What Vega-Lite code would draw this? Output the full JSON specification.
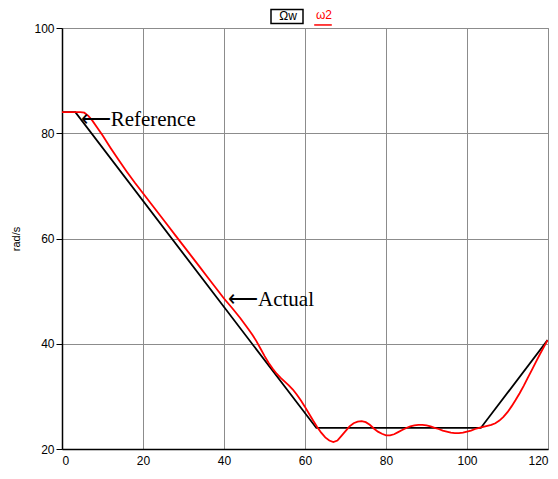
{
  "$schema": "https://vega.github.io/schema/vega-lite/v6.json",
  "width": 486,
  "height": 421,
  "autosize": "none",
  "padding": {"left": 62, "top": 28, "right": 10, "bottom": 30},
  "background": "white",
  "datasets": {
    "lines": [
      {"t": 0, "v": 84, "s": "Ωw"},
      {"t": 3.3, "v": 84, "s": "Ωw"},
      {"t": 62.8, "v": 24, "s": "Ωw"},
      {"t": 103.4, "v": 24, "s": "Ωw"},
      {"t": 119.9, "v": 40.7, "s": "Ωw"},
      {"t": 0, "v": 84, "s": "ω2"},
      {"t": 4.5, "v": 84, "s": "ω2"},
      {"t": 5.5, "v": 83.9, "s": "ω2"},
      {"t": 6.5, "v": 83.3, "s": "ω2"},
      {"t": 7.5, "v": 82.4, "s": "ω2"},
      {"t": 8.5, "v": 81.3, "s": "ω2"},
      {"t": 10, "v": 79.6, "s": "ω2"},
      {"t": 12, "v": 77.2, "s": "ω2"},
      {"t": 14, "v": 74.9, "s": "ω2"},
      {"t": 16, "v": 72.7, "s": "ω2"},
      {"t": 18, "v": 70.6, "s": "ω2"},
      {"t": 20, "v": 68.6, "s": "ω2"},
      {"t": 22, "v": 66.6, "s": "ω2"},
      {"t": 24, "v": 64.6, "s": "ω2"},
      {"t": 26, "v": 62.6, "s": "ω2"},
      {"t": 28, "v": 60.6, "s": "ω2"},
      {"t": 30, "v": 58.6, "s": "ω2"},
      {"t": 32, "v": 56.6, "s": "ω2"},
      {"t": 34, "v": 54.6, "s": "ω2"},
      {"t": 36, "v": 52.6, "s": "ω2"},
      {"t": 38, "v": 50.6, "s": "ω2"},
      {"t": 40, "v": 48.6, "s": "ω2"},
      {"t": 42, "v": 46.8, "s": "ω2"},
      {"t": 44, "v": 44.9, "s": "ω2"},
      {"t": 46, "v": 42.8, "s": "ω2"},
      {"t": 47, "v": 41.7, "s": "ω2"},
      {"t": 48, "v": 40.5, "s": "ω2"},
      {"t": 49, "v": 39.1, "s": "ω2"},
      {"t": 50, "v": 37.7, "s": "ω2"},
      {"t": 51, "v": 36.4, "s": "ω2"},
      {"t": 52, "v": 35.3, "s": "ω2"},
      {"t": 53, "v": 34.3, "s": "ω2"},
      {"t": 54, "v": 33.5, "s": "ω2"},
      {"t": 55, "v": 32.8, "s": "ω2"},
      {"t": 56, "v": 32.1, "s": "ω2"},
      {"t": 57, "v": 31.3, "s": "ω2"},
      {"t": 58, "v": 30.3, "s": "ω2"},
      {"t": 59, "v": 29.2, "s": "ω2"},
      {"t": 60, "v": 28.0, "s": "ω2"},
      {"t": 61, "v": 26.7, "s": "ω2"},
      {"t": 62, "v": 25.4, "s": "ω2"},
      {"t": 63, "v": 24.2, "s": "ω2"},
      {"t": 64, "v": 23.1, "s": "ω2"},
      {"t": 65, "v": 22.2, "s": "ω2"},
      {"t": 66, "v": 21.6, "s": "ω2"},
      {"t": 67, "v": 21.3, "s": "ω2"},
      {"t": 68, "v": 21.6, "s": "ω2"},
      {"t": 69, "v": 22.5, "s": "ω2"},
      {"t": 70, "v": 23.4, "s": "ω2"},
      {"t": 71, "v": 24.3, "s": "ω2"},
      {"t": 72, "v": 24.9, "s": "ω2"},
      {"t": 73, "v": 25.2, "s": "ω2"},
      {"t": 74, "v": 25.3, "s": "ω2"},
      {"t": 75, "v": 25.1, "s": "ω2"},
      {"t": 76, "v": 24.6, "s": "ω2"},
      {"t": 77, "v": 23.9, "s": "ω2"},
      {"t": 78, "v": 23.3, "s": "ω2"},
      {"t": 79, "v": 22.9, "s": "ω2"},
      {"t": 80, "v": 22.6, "s": "ω2"},
      {"t": 81, "v": 22.6, "s": "ω2"},
      {"t": 82, "v": 22.8, "s": "ω2"},
      {"t": 83, "v": 23.2, "s": "ω2"},
      {"t": 84, "v": 23.6, "s": "ω2"},
      {"t": 85, "v": 24.0, "s": "ω2"},
      {"t": 86, "v": 24.3, "s": "ω2"},
      {"t": 87, "v": 24.5, "s": "ω2"},
      {"t": 88, "v": 24.6, "s": "ω2"},
      {"t": 89, "v": 24.6, "s": "ω2"},
      {"t": 90, "v": 24.5, "s": "ω2"},
      {"t": 91, "v": 24.3, "s": "ω2"},
      {"t": 92, "v": 24.0, "s": "ω2"},
      {"t": 93, "v": 23.8, "s": "ω2"},
      {"t": 94, "v": 23.5, "s": "ω2"},
      {"t": 95, "v": 23.3, "s": "ω2"},
      {"t": 96, "v": 23.1, "s": "ω2"},
      {"t": 97, "v": 23.0, "s": "ω2"},
      {"t": 98, "v": 23.0, "s": "ω2"},
      {"t": 99, "v": 23.1, "s": "ω2"},
      {"t": 100, "v": 23.3, "s": "ω2"},
      {"t": 101, "v": 23.5, "s": "ω2"},
      {"t": 102, "v": 23.8, "s": "ω2"},
      {"t": 103, "v": 24.0, "s": "ω2"},
      {"t": 104, "v": 24.2, "s": "ω2"},
      {"t": 105, "v": 24.4, "s": "ω2"},
      {"t": 106, "v": 24.6, "s": "ω2"},
      {"t": 107, "v": 24.9, "s": "ω2"},
      {"t": 108, "v": 25.4, "s": "ω2"},
      {"t": 109, "v": 26.1, "s": "ω2"},
      {"t": 110, "v": 27.0, "s": "ω2"},
      {"t": 111, "v": 28.1, "s": "ω2"},
      {"t": 112, "v": 29.3, "s": "ω2"},
      {"t": 113, "v": 30.6, "s": "ω2"},
      {"t": 114, "v": 32.0, "s": "ω2"},
      {"t": 115, "v": 33.5, "s": "ω2"},
      {"t": 116, "v": 35.0, "s": "ω2"},
      {"t": 117, "v": 36.5, "s": "ω2"},
      {"t": 118, "v": 38.0, "s": "ω2"},
      {"t": 119, "v": 39.4, "s": "ω2"},
      {"t": 119.9, "v": 40.7, "s": "ω2"}
    ],
    "notes": [
      {"t": 4.6, "v": 82.6, "label": "⟵Reference"},
      {"t": 41.0, "v": 48.3, "label": "⟵Actual"}
    ]
  },
  "layer": [
    {
      "data": {"name": "lines"},
      "mark": {"type": "line", "strokeWidth": 1.8, "clip": true},
      "encoding": {
        "x": {
          "field": "t", "type": "quantitative",
          "scale": {"domain": [0, 120], "nice": false, "zero": false},
          "axis": {"values": [0, 20, 40, 60, 80, 100, 120], "title": null, "ticks": false, "labelPadding": 6}
        },
        "y": {
          "field": "v", "type": "quantitative",
          "scale": {"domain": [20, 100], "nice": false, "zero": false},
          "axis": {"values": [20, 40, 60, 80, 100], "title": "rad/s", "tickSize": 6, "labelPadding": 2, "titlePadding": 12}
        },
        "color": {
          "field": "s", "type": "nominal",
          "scale": {"domain": ["Ωw", "ω2"], "range": ["#000000", "#ff0000"]},
          "legend": {
            "orient": "none", "legendX": 208, "legendY": -30,
            "direction": "horizontal", "title": null,
            "symbolType": {"expr": "datum.label == 'ω2' ? 'M -0.55 0.62 L 0.55 0.62' : 'M -1 -0.44 L 1 -0.44 L 1 0.44 L -1 0.44 Z'"},
            "symbolSize": 1024, "symbolStrokeWidth": 1.5, "symbolFillColor": "transparent",
            "labelAlign": "center",
            "labelOffset": -16,
            "labelFontSize": 12, "labelFont": "Liberation Sans",
            "labelColor": {"expr": "datum.label == 'ω2' ? '#ff0000' : '#000000'"}
          }
        },
        "order": {"field": "t", "type": "quantitative"}
      }
    },
    {
      "data": {"name": "notes"},
      "mark": {"type": "text", "align": "left", "baseline": "middle", "font": "Liberation Serif", "fontSize": 21, "color": "#000000"},
      "encoding": {
        "x": {"field": "t", "type": "quantitative"},
        "y": {"field": "v", "type": "quantitative"},
        "text": {"field": "label"}
      }
    }
  ],
  "config": {
    "view": {"stroke": "#8c8c8c", "strokeWidth": 1},
    "legend": {"columnPadding": -10},
    "axis": {
      "grid": true, "gridColor": "#8c8c8c", "gridWidth": 1, "gridOpacity": 1,
      "domainColor": "#000000", "domainWidth": 1.5,
      "tickColor": "#000000",
      "labelFont": "Liberation Sans", "labelFontSize": 12, "labelColor": "#000000",
      "titleFont": "Liberation Sans", "titleFontSize": 11, "titleFontWeight": "normal", "titleColor": "#000000"
    }
  }
}
